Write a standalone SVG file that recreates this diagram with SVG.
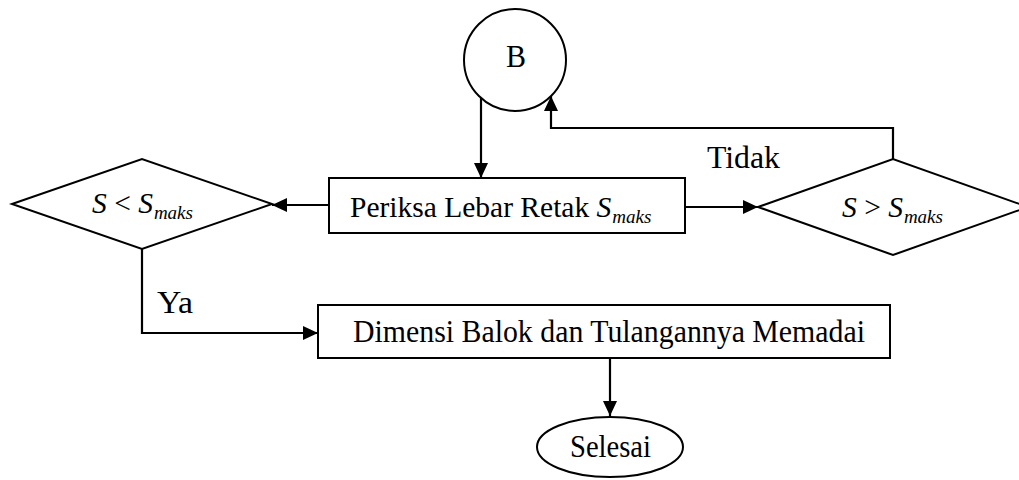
<svg xmlns="http://www.w3.org/2000/svg" width="1019" height="480" viewBox="0 0 1019 480">
<style>
.shape{fill:#fff;stroke:#000;stroke-width:2}
.conn{fill:none;stroke:#000;stroke-width:2.2}
text{font-family:"Liberation Serif","Times New Roman",serif;font-size:31px;fill:#000}
.mt{font-size:29.5px}
.it{font-style:italic}
.sub{font-style:italic;font-size:19px}
</style>
<defs>
<marker id="ah" markerUnits="userSpaceOnUse" markerWidth="16" markerHeight="14" refX="15" refY="7" orient="auto">
<path d="M0,0 L15,7 L0,14 Z" fill="#000"/>
</marker>
</defs>
<rect width="1019" height="480" fill="#fff"/>
<g id="connectors">
<line class="conn" x1="481" y1="98" x2="481" y2="178" marker-end="url(#ah)"/>
<line class="conn" x1="329" y1="205" x2="272" y2="205" marker-end="url(#ah)"/>
<line class="conn" x1="685" y1="207" x2="758" y2="207" marker-end="url(#ah)"/>
<polyline class="conn" points="893,159 893,128 551,128 551,96" marker-end="url(#ah)"/>
<polyline class="conn" points="142,249 142,333 318,333" marker-end="url(#ah)"/>
<line class="conn" x1="610" y1="358" x2="610" y2="416" marker-end="url(#ah)"/>
</g>
<g id="node-b">
<circle class="shape" cx="515" cy="60" r="51"/>
<text x="506" y="67" textLength="20" lengthAdjust="spacingAndGlyphs">B</text>
</g>
<g id="node-periksa">
<rect class="shape" x="329" y="178" width="356" height="55"/>
<text class="mt" x="350" y="217">Periksa Lebar Retak <tspan class="it">S</tspan><tspan class="sub" dx="1" dy="6">maks</tspan></text>
</g>
<g id="node-less">
<polygon class="shape" points="12,204 142,159 272,204 142,249"/>
<text class="mt" x="92" y="213"><tspan class="it">S</tspan> &lt; <tspan class="it">S</tspan><tspan class="sub" dx="1" dy="6">maks</tspan></text>
</g>
<g id="node-greater">
<polygon class="shape" points="758,207 893,159 1028,207 893,255"/>
<text class="mt" x="842" y="217"><tspan class="it">S</tspan> &gt; <tspan class="it">S</tspan><tspan class="sub" dx="1" dy="6">maks</tspan></text>
</g>
<g id="node-dimensi">
<rect class="shape" x="318" y="305" width="572" height="53"/>
<text x="353" y="342" textLength="512" lengthAdjust="spacingAndGlyphs">Dimensi Balok dan Tulangannya Memadai</text>
</g>
<g id="node-selesai">
<ellipse class="shape" cx="610" cy="447" rx="73" ry="30"/>
<text x="570" y="457" textLength="81" lengthAdjust="spacingAndGlyphs">Selesai</text>
</g>
<g id="labels">
<text x="707" y="168" textLength="73" lengthAdjust="spacingAndGlyphs">Tidak</text>
<text x="157" y="313" textLength="36" lengthAdjust="spacingAndGlyphs">Ya</text>
</g>
</svg>
